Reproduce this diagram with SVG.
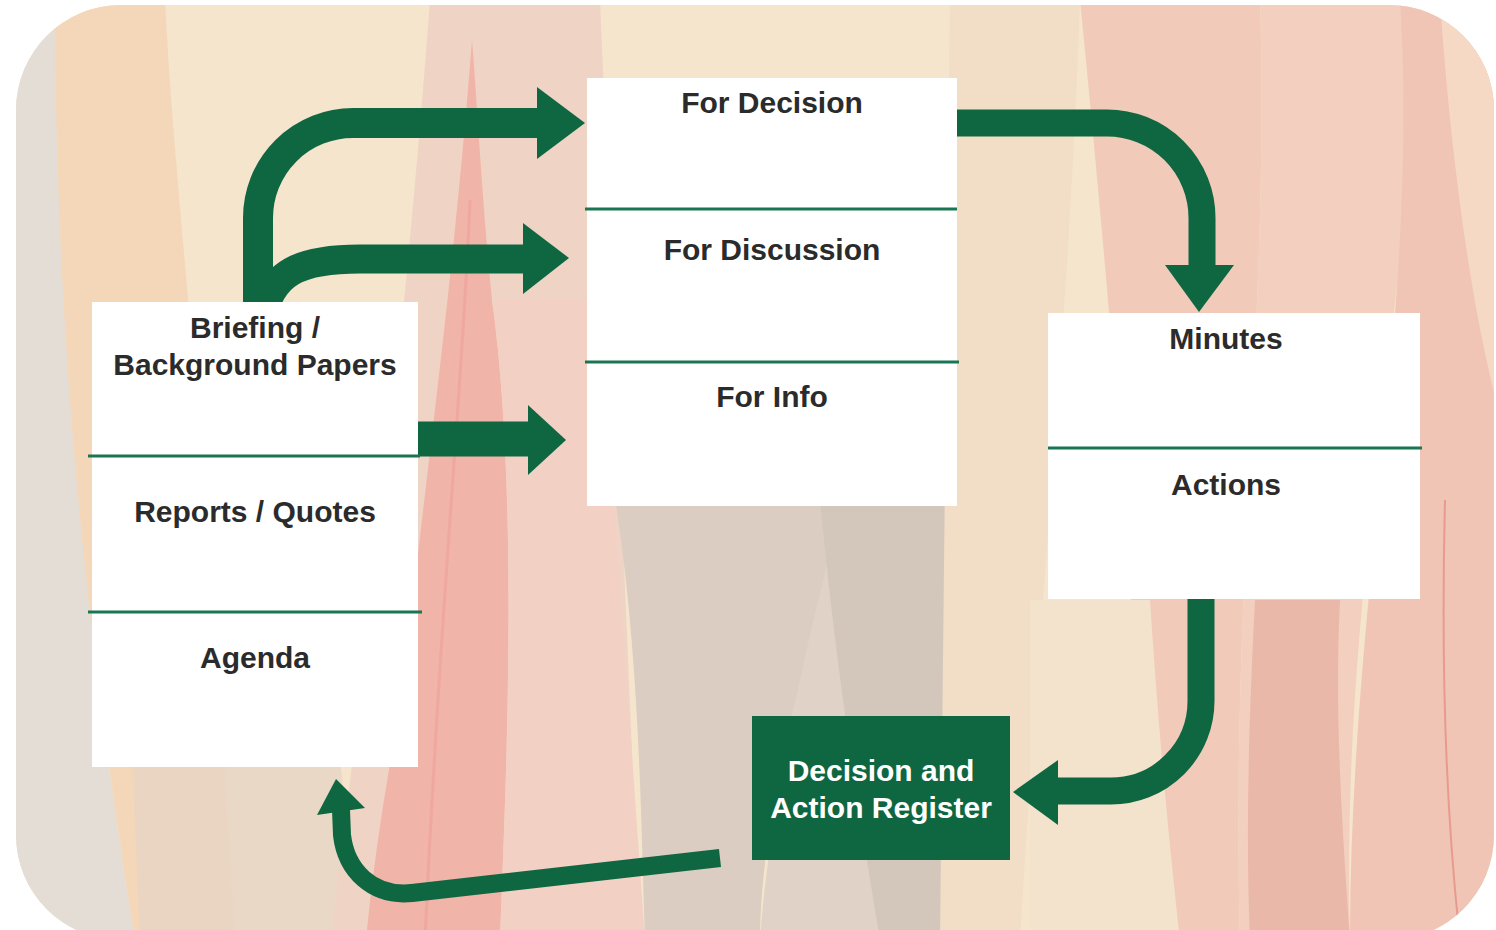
<svg xmlns="http://www.w3.org/2000/svg" width="1496" height="930" viewBox="0 0 1496 930">
<defs>
<style>
.box{fill:#ffffff}
.div{stroke:#1a7652;stroke-width:3;fill:none}
.lbl{font-family:"Liberation Sans",Arial,sans-serif;font-weight:bold;font-size:30px;fill:#2b2b2b;text-anchor:middle}
.wlbl{font-family:"Liberation Sans",Arial,sans-serif;font-weight:bold;font-size:30px;fill:#ffffff;text-anchor:middle}
.shaft{fill:none;stroke:#0f6742;stroke-linecap:butt;stroke-linejoin:round}
.head{fill:#0f6742}
</style>
<clipPath id="bgclip"><rect x="16" y="5" width="1478" height="935" rx="105" ry="105"/></clipPath>
</defs>
<rect width="1496" height="930" fill="#ffffff"/>
<g id="background" clip-path="url(#bgclip)">
<rect x="0" y="0" width="1496" height="940" fill="#f5e5cd"/>
<path d="M0,0 L62,0 C55,300 80,600 135,940 L0,940 Z" fill="#e3ddd6"/>
<path d="M55,0 L165,0 C175,200 205,420 235,940 L135,940 C80,600 55,300 55,0 Z" fill="#f4d7b9"/>
<path d="M130,700 C200,720 280,740 340,760 L360,940 L140,940 Z" fill="#e6d4c4" opacity="0.8"/>
<path d="M430,0 L600,0 L640,940 L330,940 C360,700 400,400 430,0 Z" fill="#efd4c5"/>
<path d="M472,40 C452,300 422,500 402,700 C382,800 372,880 366,940 L500,940 C505,800 520,500 492,300 C482,200 477,100 472,40 Z" fill="#f1b4a8"/>
<path d="M500,940 C505,800 520,500 492,300 L600,300 L645,940 Z" fill="#f2d1c4"/>
<path d="M600,420 C640,600 640,800 645,940 L760,940 C760,800 820,620 850,480 Z" fill="#dbcdc2"/>
<path d="M760,940 C770,800 810,620 850,480 L900,500 C880,650 870,800 880,940 Z" fill="#e0d2c6"/>
<path d="M820,500 C830,600 840,700 880,940 L960,940 L960,500 Z" fill="#d3c6bb"/>
<path d="M950,0 L1080,0 C1070,300 1040,600 1020,940 L940,940 Z" fill="#f2ddc6"/>
<path d="M1080,0 L1260,0 C1270,300 1230,600 1240,940 L1150,940 C1140,700 1120,400 1080,0 Z" fill="#f1cab9"/>
<path d="M1150,600 C1160,750 1170,850 1180,940 L1030,940 L1030,600 Z" fill="#f4e3cc"/>
<path d="M1260,0 L1420,0 C1410,300 1340,600 1350,940 L1240,940 C1230,600 1270,300 1260,0 Z" fill="#f2cfbf"/>
<path d="M1255,600 C1250,700 1245,820 1250,940 L1350,940 C1340,800 1335,700 1340,600 Z" fill="#eab8a9"/>
<path d="M1400,0 L1496,0 L1496,940 L1350,940 C1350,600 1420,300 1400,0 Z" fill="#f0c5b5"/>
<path d="M1440,0 L1496,0 L1496,400 C1470,300 1450,150 1440,0 Z" fill="#f5d9c5"/>
<path d="M1445,500 C1440,700 1450,850 1460,940" stroke="#e89a8f" stroke-width="2" fill="none"/>
<path d="M470,200 C462,400 440,600 425,940" stroke="#ee9e98" stroke-width="3" fill="none" opacity="0.6"/>
</g>
<g id="connectors">
<path class="shaft" stroke-width="30" d="M258,310 L258,218 A95,95 0 0 1 353,123 L540,123"/>
<polygon class="head" points="537,87 585,123 537,159"/>
<path class="shaft" stroke-width="29" d="M262,320 C270,272 300,259 360,259 L527,259"/>
<polygon class="head" points="523,223 569,258 523,294"/>
<path class="shaft" stroke-width="35" d="M418,439 L530,439"/>
<polygon class="head" points="528,405 566,440 528,475"/>
<path class="shaft" stroke-width="27" d="M957,123 L1107,123 A95,95 0 0 1 1202,218 L1202,268"/>
<polygon class="head" points="1165,265 1234,265 1199,312"/>
<path class="shaft" stroke-width="27" d="M1201,599 L1201,701 A90,90 0 0 1 1111,791 L1055,791"/>
<polygon class="head" points="1058,760 1058,825 1013,792"/>
<path class="shaft" stroke-width="18" d="M720,858 L412,893 C372,897 346,870 342,835 L341,810"/>
<polygon class="head" points="317,815 365,808 336,779"/>
</g>
<g id="node-left">
<rect class="box" x="92" y="302" width="326" height="465"/>
<line class="div" x1="88" y1="456" x2="420" y2="456"/>
<line class="div" x1="88" y1="612" x2="422" y2="612"/>
<text class="lbl" x="255" y="338">Briefing /</text>
<text class="lbl" x="255" y="375">Background Papers</text>
<text class="lbl" x="255" y="522">Reports / Quotes</text>
<text class="lbl" x="255" y="668">Agenda</text>
</g>
<g id="node-middle">
<rect class="box" x="587" y="78" width="370" height="428"/>
<line class="div" x1="585" y1="209" x2="957" y2="209"/>
<line class="div" x1="585" y1="362" x2="959" y2="362"/>
<text class="lbl" x="772" y="113">For Decision</text>
<text class="lbl" x="772" y="260">For Discussion</text>
<text class="lbl" x="772" y="407">For Info</text>
</g>
<g id="node-right">
<rect class="box" x="1048" y="313" width="372" height="286"/>
<line class="div" x1="1048" y1="448" x2="1422" y2="448"/>
<text class="lbl" x="1226" y="349">Minutes</text>
<text class="lbl" x="1226" y="495">Actions</text>
</g>
<g id="node-register">
<rect x="752" y="716" width="258" height="144" fill="#0f6742"/>
<text class="wlbl" x="881" y="781">Decision and</text>
<text class="wlbl" x="881" y="818">Action Register</text>
</g>
</svg>
